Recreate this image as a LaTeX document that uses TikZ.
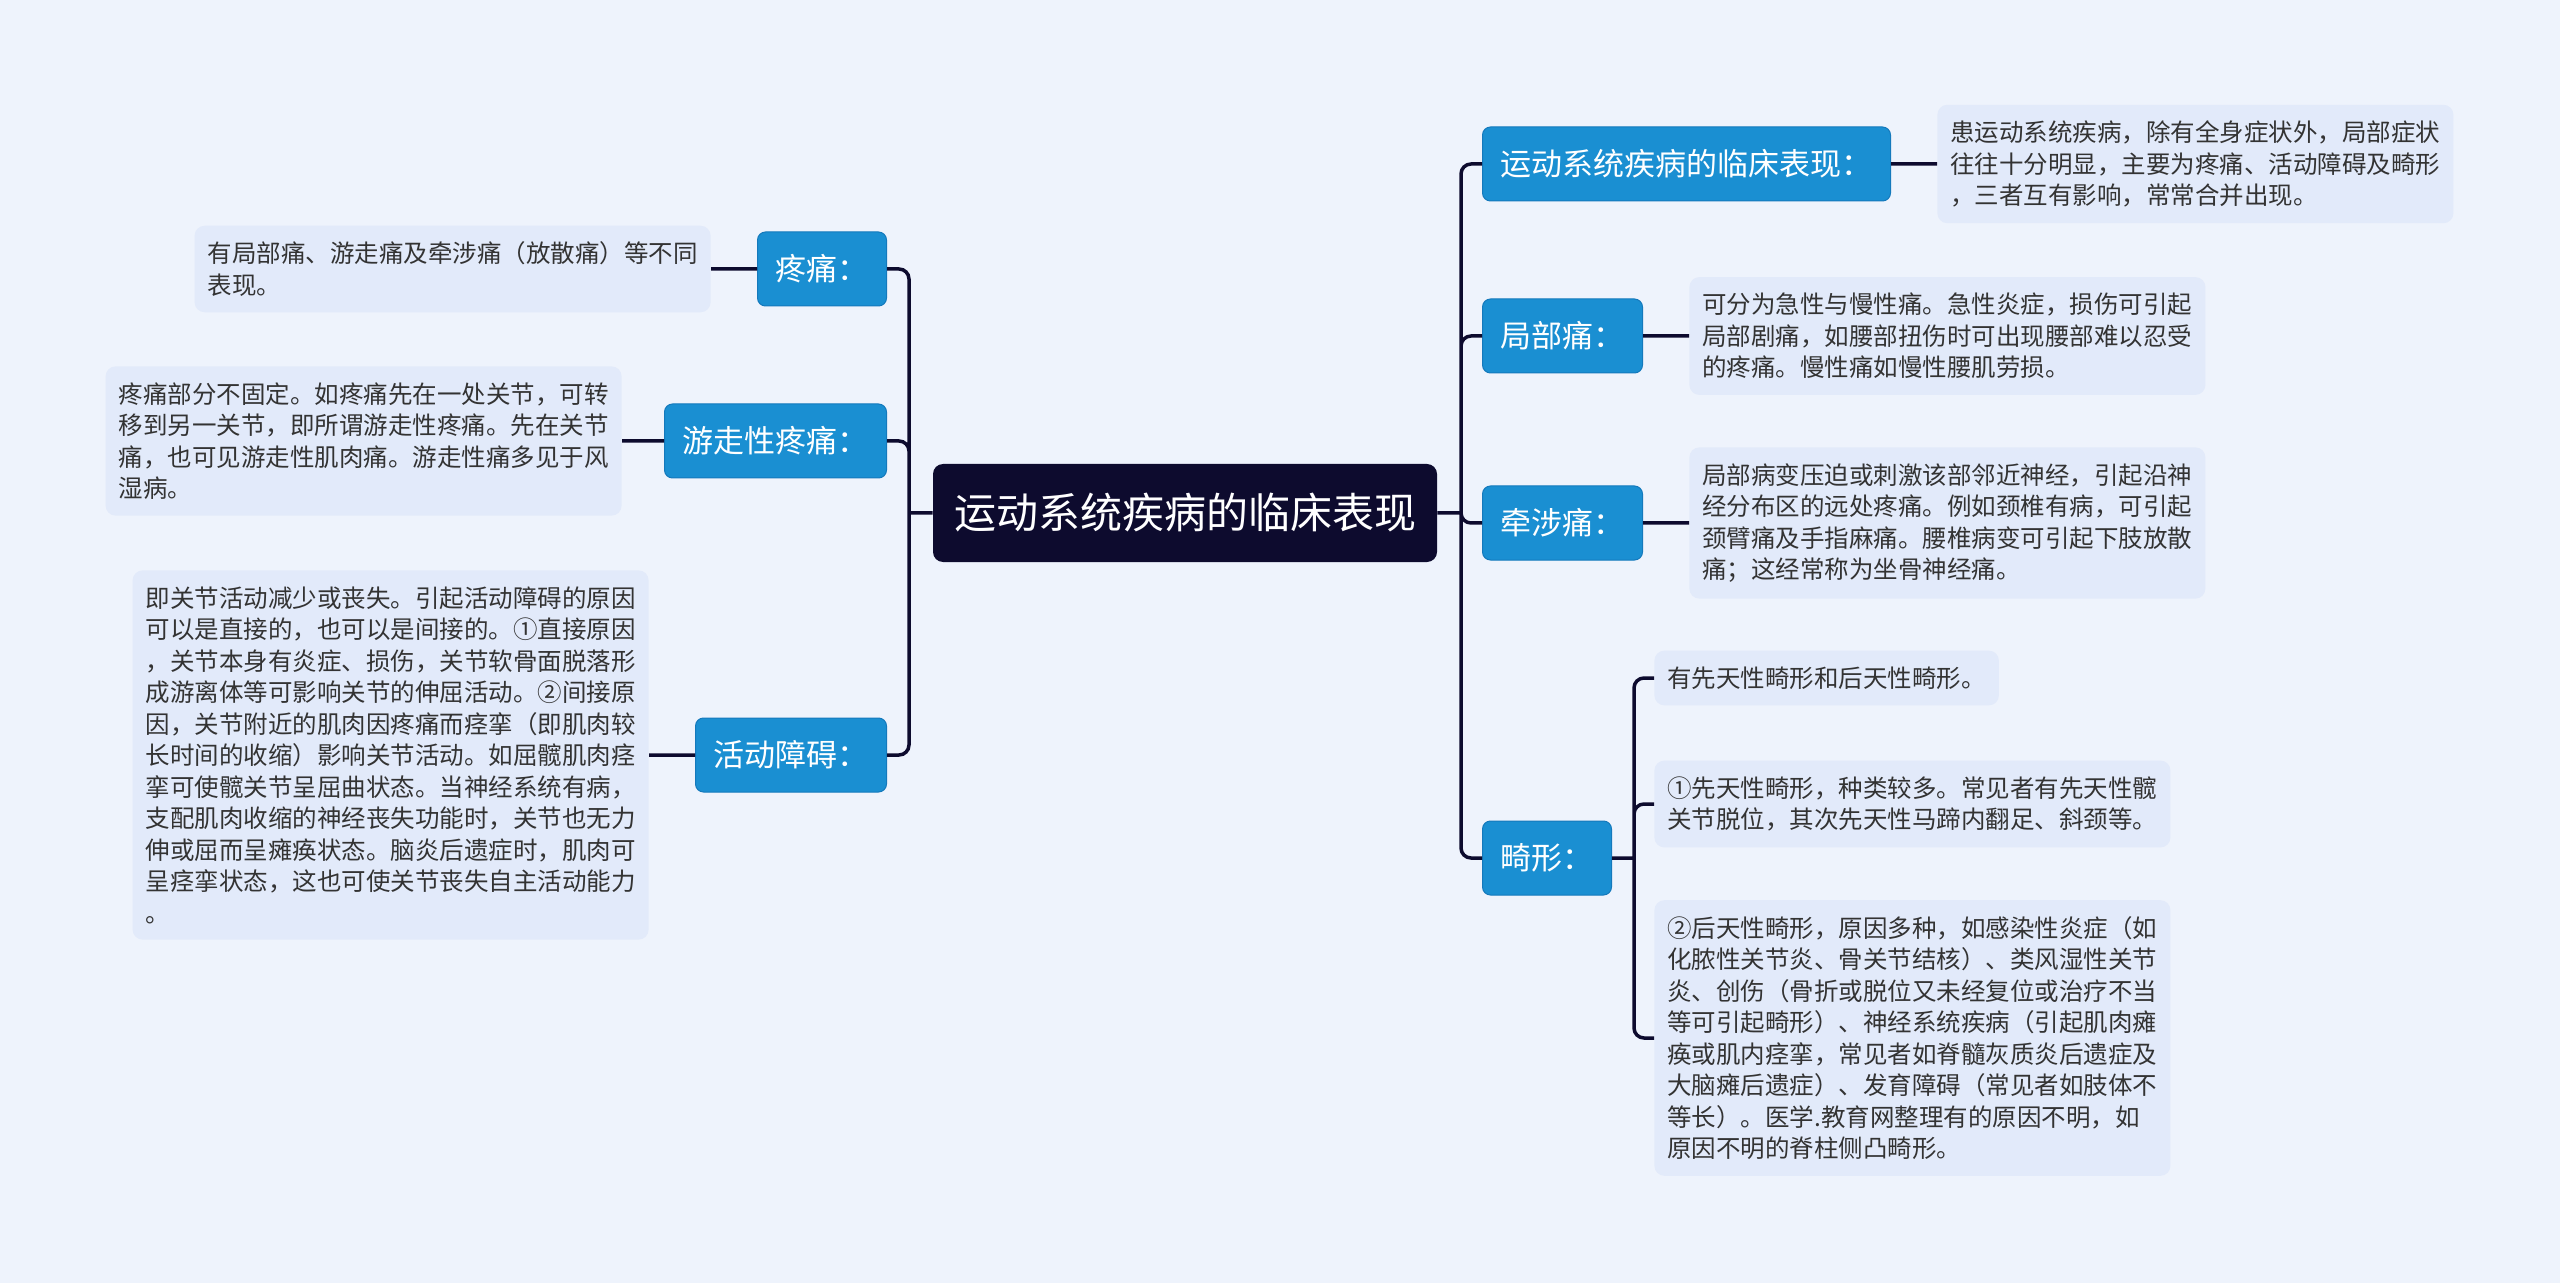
\documentclass[tikz,border=0pt]{standalone}
\usepackage{fontspec}
\setmainfont{Noto Sans CJK SC}
\usetikzlibrary{positioning}

\definecolor{bgcol}{HTML}{EEF3FC}
\definecolor{leafcol}{HTML}{E2EAFA}
\definecolor{branchcol}{HTML}{1A8FD2}
\definecolor{branchline}{HTML}{1479BC}
\definecolor{rootcol}{HTML}{0D0B2E}
\definecolor{leaftext}{HTML}{333333}

\tikzset{
  root/.style={fill=rootcol, text=white, rounded corners=5pt,
    minimum width=252pt, minimum height=49pt,
    font=\fontsize{21}{25}\selectfont},
  branch/.style={fill=branchcol, draw=branchline, line width=0.5pt,
    text=white, rounded corners=4pt, minimum height=37pt, inner xsep=9pt,
    font=\fontsize{15.5}{19}\selectfont},
  leaf/.style={fill=leafcol, rounded corners=5pt, align=left,
    inner xsep=6.5pt, inner ysep=8pt, text=leaftext,
    font=\fontsize{12.25}{15.75}\selectfont},
  link/.style={draw=rootcol, line width=1.75pt, rounded corners=5pt},
}

\begin{document}
\begin{tikzpicture}[x=0.5pt,y=-0.5pt,node distance=23pt]
  \fill[bgcol] (0,0) rectangle (2560,1283);
  \useasboundingbox (0,0) rectangle (2560,1283);

  \node[root] (root) at (1185,513) {运动系统疾病的临床表现};

  % right side
  \path
  node[branch,anchor=west] (r_1) at (1482,164) {运动系统疾病的临床表现：}
  node[branch,anchor=west] (r_2) at (1482,336) {局部痛：}
  node[branch,anchor=west] (r_3) at (1482,523) {牵涉痛：}
  node[branch,anchor=west] (r_4) at (1482,858) {畸形：}
  ;
  \node[leaf] (rt_1) [right=of r_1] {患运动系统疾病，除有全身症状外，局部症状\\往往十分明显，主要为疼痛、活动障碍及畸形\\，三者互有影响，常常合并出现。};
  \node[leaf] (rt_2) [right=of r_2] {可分为急性与慢性痛。急性炎症，损伤可引起\\局部剧痛，如腰部扭伤时可出现腰部难以忍受\\的疼痛。慢性痛如慢性腰肌劳损。};
  \node[leaf] (rt_3) [right=of r_3] {局部病变压迫或刺激该部邻近神经，引起沿神\\经分布区的远处疼痛。例如颈椎有病，可引起\\颈臂痛及手指麻痛。腰椎病变可引起下肢放散\\痛；这经常称为坐骨神经痛。};

  % sub-leaves of r_4
  \node[leaf,anchor=west] (rt_4a) at (1654,678) {有先天性畸形和后天性畸形。};
  \node[leaf,anchor=west] (rt_4b) at (1654,804) {①先天性畸形，种类较多。常见者有先天性髋\\关节脱位，其次先天性马蹄内翻足、斜颈等。};
  \node[leaf,anchor=west] (rt_4c) at (1654,1038) {②后天性畸形，原因多种，如感染性炎症（如\\化脓性关节炎、骨关节结核）、类风湿性关节\\炎、创伤（骨折或脱位又未经复位或治疗不当\\等可引起畸形）、神经系统疾病（引起肌肉瘫\\痪或肌内痉挛，常见者如脊髓灰质炎后遗症及\\大脑瘫后遗症）、发育障碍（常见者如肢体不\\等长）。医学.教育网整理有的原因不明，如\\原因不明的脊柱侧凸畸形。};

  % left side
  \path
  node[branch,anchor=east] (l_1) at (887,269) {疼痛：}
  node[branch,anchor=east] (l_2) at (887,441) {游走性疼痛：}
  node[branch,anchor=east] (l_3) at (887,755) {活动障碍：}
  ;
  \node[leaf] (lt_1) [left=of l_1] {有局部痛、游走痛及牵涉痛（放散痛）等不同\\表现。};
  \node[leaf] (lt_2) [left=21pt of l_2] {疼痛部分不固定。如疼痛先在一处关节，可转\\移到另一关节，即所谓游走性疼痛。先在关节\\痛，也可见游走性肌肉痛。游走性痛多见于风\\湿病。};
  \node[leaf] (lt_3) [left=of l_3] {即关节活动减少或丧失。引起活动障碍的原因\\可以是直接的，也可以是间接的。①直接原因\\，关节本身有炎症、损伤，关节软骨面脱落形\\成游离体等可影响关节的伸屈活动。②间接原\\因，关节附近的肌肉因疼痛而痉挛（即肌肉较\\长时间的收缩）影响关节活动。如屈髋肌肉痉\\挛可使髋关节呈屈曲状态。当神经系统有病，\\支配肌肉收缩的神经丧失功能时，关节也无力\\伸或屈而呈瘫痪状态。脑炎后遗症时，肌肉可\\呈痉挛状态，这也可使关节丧失自主活动能力\\。};

  \coordinate (rt) at (1461,513);
  \coordinate (lt) at (909,513);
  \coordinate (jt) at (1634,858);

  \draw[link]
  (root.east) -- (rt)
  (rt) |- (r_1.west)
  (rt) |- (r_2.west)
  (rt) |- (r_3.west)
  (rt) |- (r_4.west)

  (root.west) -- (lt)
  (lt) |- (l_1.east)
  (lt) |- (l_2.east)
  (lt) |- (l_3.east)

  (r_1) -- (rt_1)
  (r_2) -- (rt_2)
  (r_3) -- (rt_3)
  (l_1) -- (lt_1)
  (l_2) -- (lt_2)
  (l_3) -- (lt_3)

  (r_4.east) -- (jt)
  (jt) |- (rt_4a.west)
  (jt) |- (rt_4b.west)
  (jt) |- (rt_4c.west)
  ;
\end{tikzpicture}
\end{document}
